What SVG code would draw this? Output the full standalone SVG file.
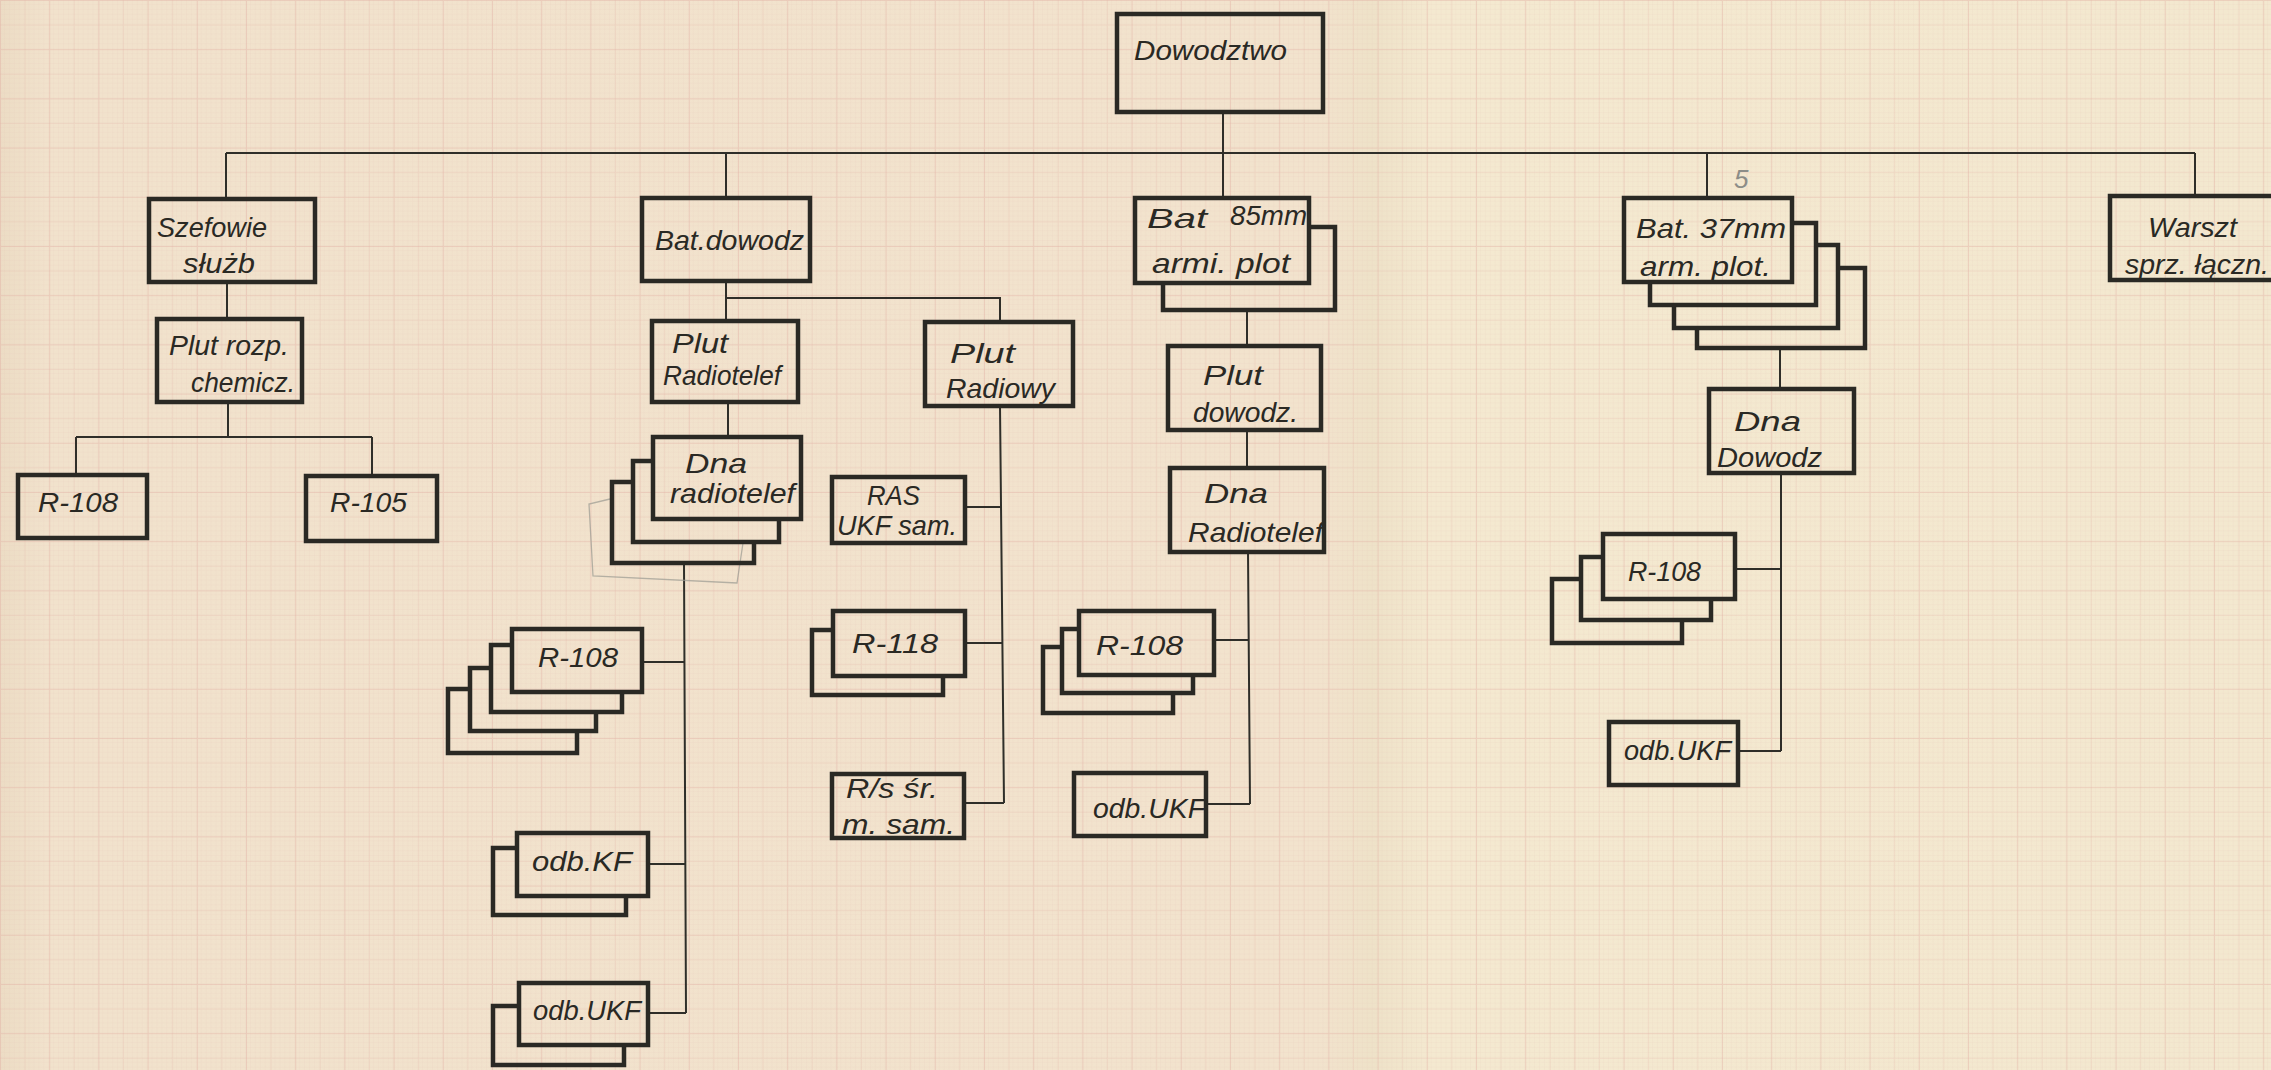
<svg xmlns="http://www.w3.org/2000/svg" width="2271" height="1070" viewBox="0 0 2271 1070">
<style>
.box{fill:none;stroke:#2a2924;stroke-width:4.5;stroke-linejoin:miter}
.back{fill:none;stroke:#2a2924;stroke-width:4.5;stroke-linejoin:miter}
.conn{fill:none;stroke:#2f2e29;stroke-width:2}
.t{font-family:"Liberation Sans","DejaVu Sans",Arial,sans-serif;font-style:italic;fill:#2a2924;font-size:28px}
.pencil{fill:none;stroke:#9a9a92;stroke-width:1.3;opacity:0.7}
</style>
<defs>
<linearGradient id="paper" x1="0" y1="0" x2="1" y2="0">
<stop offset="0" stop-color="#ecdcc4"/>
<stop offset="0.02" stop-color="#f1e2cc"/>
<stop offset="0.58" stop-color="#f2e3cd"/>
<stop offset="0.605" stop-color="#eee2c8"/>
<stop offset="0.63" stop-color="#f4e9d0"/>
<stop offset="1" stop-color="#f3e8cf"/>
</linearGradient>
<pattern id="fine" width="4.92" height="4.92" patternUnits="userSpaceOnUse"><path d="M4.92 0V4.92H0" fill="none" stroke="#e3bdb0" stroke-width="0.6" opacity="0.35"/></pattern>
<pattern id="major" width="49.2" height="49.2" patternUnits="userSpaceOnUse"><path d="M0.5 0V49.2M0 0.5H49.2" stroke="#dea89c" stroke-width="1.1" opacity="0.38"/><path d="M25.1 0V49.2M0 25.1H49.2" stroke="#e2b4a8" stroke-width="0.8" opacity="0.3"/></pattern>
</defs>
<rect width="2271" height="1070" fill="url(#paper)"/>
<rect width="2271" height="1070" fill="url(#fine)"/>
<rect width="2271" height="1070" fill="url(#major)"/>

<g id="connectors">
<path class="conn" d="M226,153 H2195"/>
<path class="conn" d="M1223,112 V153"/>
<path class="conn" d="M226,153 V199"/>
<path class="conn" d="M726,153 V198"/>
<path class="conn" d="M1223,153 V198"/>
<path class="conn" d="M1707,154 V198"/>
<path class="conn" d="M2195,153 V196"/>
<path class="conn" d="M227,282 V319"/>
<path class="conn" d="M228,402 V437 M76,437 H372 M76,437 V475 M372,437 V476"/>
<path class="conn" d="M726,281 V321 M726,298 H1000 V322"/>
<path class="conn" d="M728,402 V437"/>
<path class="conn" d="M684,563 L686,1013 M642,662 H684 M648,864 H685 M648,1013 H686"/>
<path class="conn" d="M1000,406 L1004,803 M965,507 H1001 M965,643 H1002 M964,803 H1004"/>
<path class="conn" d="M1247,310 V346 M1247,430 V468 M1248,552 L1250,804 M1214,640 H1248 M1206,804 H1250"/>
<path class="conn" d="M1780,348 V389 M1781,473 V751 M1735,569 H1781 M1738,751 H1781"/>
</g>

<g id="n-dowodztwo">
<rect class="box" x="1117" y="14" width="206" height="98"/>
<text class="t" x="1134" y="60" font-size="35" textLength="153" lengthAdjust="spacingAndGlyphs">Dowodztwo</text>
</g>

<g id="n-szefowie">
<rect class="box" x="149" y="199" width="166" height="83"/>
<text class="t" x="157" y="237" textLength="110" lengthAdjust="spacingAndGlyphs">Szefowie</text>
<text class="t" x="183" y="273" textLength="72" lengthAdjust="spacingAndGlyphs">służb</text>
</g>

<g id="n-plut-rozp">
<rect class="box" x="157" y="319" width="145" height="83"/>
<text class="t" x="169" y="355" textLength="120" lengthAdjust="spacingAndGlyphs">Plut rozp.</text>
<text class="t" x="191" y="392" textLength="104" lengthAdjust="spacingAndGlyphs">chemicz.</text>
</g>

<g id="n-r108-a">
<rect class="box" x="18" y="475" width="129" height="63"/>
<text class="t" x="38" y="512" font-size="26" textLength="80" lengthAdjust="spacingAndGlyphs">R-108</text>
</g>

<g id="n-r105">
<rect class="box" x="306" y="476" width="131" height="65"/>
<text class="t" x="330" y="512" font-size="26" textLength="77" lengthAdjust="spacingAndGlyphs">R-105</text>
</g>

<g id="n-bat-dowodz">
<rect class="box" x="642" y="198" width="168" height="83"/>
<text class="t" x="655" y="250" font-size="34" textLength="149" lengthAdjust="spacingAndGlyphs">Bat.dowodz</text>
</g>

<g id="n-plut-radiotelef">
<rect class="box" x="652" y="321" width="146" height="81"/>
<text class="t" x="672" y="353" textLength="56" lengthAdjust="spacingAndGlyphs">Plut</text>
<text class="t" x="663" y="385" textLength="118" lengthAdjust="spacingAndGlyphs">Radiotelef</text>
</g>

<g id="n-plut-radiowy">
<rect class="box" x="925" y="322" width="148" height="84"/>
<text class="t" x="950" y="363" font-size="30" textLength="65" lengthAdjust="spacingAndGlyphs">Plut</text>
<text class="t" x="946" y="398" font-size="30" textLength="109" lengthAdjust="spacingAndGlyphs">Radiowy</text>
</g>

<g id="n-dna-radiotelef">
<path class="pencil" d="M610,499 L589,504 L593,576 L737,583 L743,543"/>
<path class="back" d="M633,482 H612 V563 H754 V542"/>
<path class="back" d="M653,461 H633 V542 H779 V519"/>
<rect class="box" x="653" y="437" width="148" height="82"/>
<text class="t" x="685" y="473" textLength="62" lengthAdjust="spacingAndGlyphs">Dna</text>
<text class="t" x="670" y="503" textLength="125" lengthAdjust="spacingAndGlyphs">radiotelef</text>
</g>

<g id="n-r108-b">
<path class="back" d="M470,689 H448 V753 H577 V731"/>
<path class="back" d="M491,668 H470 V731 H596 V712"/>
<path class="back" d="M512,645 H491 V712 H622 V692"/>
<rect class="box" x="512" y="629" width="130" height="63"/>
<text class="t" x="538" y="667" font-size="26" textLength="80" lengthAdjust="spacingAndGlyphs">R-108</text>
</g>

<g id="n-odb-kf">
<path class="back" d="M517,848 H493 V915 H626 V896"/>
<rect class="box" x="517" y="833" width="131" height="63"/>
<text class="t" x="532" y="871" font-size="26" textLength="100" lengthAdjust="spacingAndGlyphs">odb.KF</text>
</g>

<g id="n-odb-ukf-a">
<path class="back" d="M519,1006 H493 V1065 H624 V1045"/>
<rect class="box" x="519" y="983" width="129" height="62"/>
<text class="t" x="533" y="1020" font-size="26" textLength="108" lengthAdjust="spacingAndGlyphs">odb.UKF</text>
</g>

<g id="n-ras">
<rect class="box" x="832" y="477" width="133" height="66"/>
<text class="t" x="867" y="505" font-size="25" textLength="53" lengthAdjust="spacingAndGlyphs">RAS</text>
<text class="t" x="837" y="535" font-size="25" textLength="120" lengthAdjust="spacingAndGlyphs">UKF sam.</text>
</g>

<g id="n-r118">
<path class="back" d="M833,630 H812 V695 H943 V676"/>
<rect class="box" x="833" y="611" width="132" height="65"/>
<text class="t" x="852" y="653" font-size="27" textLength="86" lengthAdjust="spacingAndGlyphs">R-118</text>
</g>

<g id="n-rs">
<rect class="box" x="832" y="774" width="132" height="64"/>
<text class="t" x="846" y="798" font-size="25" textLength="92" lengthAdjust="spacingAndGlyphs">R/s  śr.</text>
<text class="t" x="842" y="834" font-size="25" textLength="113" lengthAdjust="spacingAndGlyphs">m. sam.</text>
</g>

<g id="n-bat85">
<path class="back" d="M1309,227 H1335 V310 H1163 V283"/>
<rect class="box" x="1135" y="198" width="174" height="85"/>
<text class="t" x="1147" y="228" font-size="30" textLength="60" lengthAdjust="spacingAndGlyphs">Bat</text>
<text class="t" x="1230" y="225" font-size="24" textLength="77" lengthAdjust="spacingAndGlyphs">85mm</text>
<text class="t" x="1152" y="273" font-size="27" textLength="138" lengthAdjust="spacingAndGlyphs">armi. plot</text>
</g>

<g id="n-plut-dowodz">
<rect class="box" x="1168" y="346" width="153" height="84"/>
<text class="t" x="1203" y="385" font-size="30" textLength="60" lengthAdjust="spacingAndGlyphs">Plut</text>
<text class="t" x="1193" y="422" font-size="28" textLength="105" lengthAdjust="spacingAndGlyphs">dowodz.</text>
</g>

<g id="n-dna-radiotelef-2">
<rect class="box" x="1170" y="468" width="154" height="84"/>
<text class="t" x="1204" y="503" font-size="31" textLength="64" lengthAdjust="spacingAndGlyphs">Dna</text>
<text class="t" x="1188" y="542" font-size="28" textLength="135" lengthAdjust="spacingAndGlyphs">Radiotelef</text>
</g>

<g id="n-r108-c">
<path class="back" d="M1062,647 H1043 V713 H1173 V693"/>
<path class="back" d="M1079,629 H1062 V693 H1193 V675"/>
<rect class="box" x="1079" y="611" width="135" height="64"/>
<text class="t" x="1096" y="655" font-size="27" textLength="87" lengthAdjust="spacingAndGlyphs">R-108</text>
</g>

<g id="n-odb-ukf-b">
<rect class="box" x="1074" y="773" width="132" height="63"/>
<text class="t" x="1093" y="818" font-size="25" textLength="112" lengthAdjust="spacingAndGlyphs">odb.UKF</text>
</g>

<g id="n-bat37">
<path class="back" d="M1838,268 H1865 V348 H1697 V328"/>
<path class="back" d="M1816,245 H1838 V328 H1674 V305"/>
<path class="back" d="M1792,223 H1816 V305 H1650 V282"/>
<rect class="box" x="1624" y="198" width="168" height="84"/>
<text class="t" x="1636" y="238" font-size="30" textLength="150" lengthAdjust="spacingAndGlyphs">Bat. 37mm</text>
<text class="t" x="1640" y="276" font-size="27" textLength="131" lengthAdjust="spacingAndGlyphs">arm. plot.</text>
<text x="1734" y="188" font-family="Liberation Sans, sans-serif" font-style="italic" font-size="26" fill="#8c8d88">5</text>
</g>

<g id="n-dna-dowodz">
<rect class="box" x="1709" y="389" width="145" height="84"/>
<text class="t" x="1734" y="431" font-size="32" textLength="67" lengthAdjust="spacingAndGlyphs">Dna</text>
<text class="t" x="1717" y="467" font-size="30" textLength="105" lengthAdjust="spacingAndGlyphs">Dowodz</text>
</g>

<g id="n-r108-d">
<path class="back" d="M1581,579 H1552 V643 H1682 V620"/>
<path class="back" d="M1603,557 H1581 V620 H1711 V599"/>
<rect class="box" x="1603" y="534" width="132" height="65"/>
<text class="t" x="1628" y="581" font-size="26" textLength="73" lengthAdjust="spacingAndGlyphs">R-108</text>
</g>

<g id="n-odb-ukf-c">
<rect class="box" x="1609" y="722" width="129" height="63"/>
<text class="t" x="1624" y="760" font-size="25" textLength="107" lengthAdjust="spacingAndGlyphs">odb.UKF</text>
</g>

<g id="n-warszt">
<rect class="box" x="2110" y="196" width="180" height="84"/>
<text class="t" x="2148" y="237" font-size="28" textLength="89" lengthAdjust="spacingAndGlyphs">Warszt</text>
<text class="t" x="2125" y="274" font-size="25" textLength="144" lengthAdjust="spacingAndGlyphs">sprz. łączn.</text>
</g>
</svg>
